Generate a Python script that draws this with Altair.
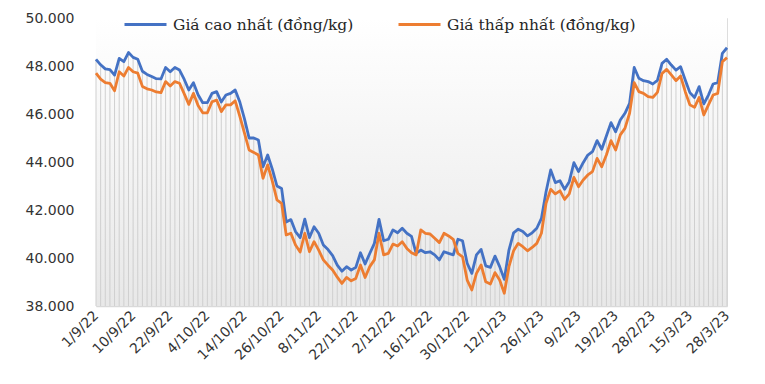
import altair as alt
import pandas as pd

date_labels = ["1/9/22", "10/9/22", "22/9/22", "4/10/22", "14/10/22", "26/10/22",
               "8/11/22", "22/11/22", "2/12/22", "16/12/22", "30/12/22", "12/1/23",
               "26/1/23", "9/2/23", "19/2/23", "28/2/23", "15/3/23", "28/3/23"]
label_step = 8

high = [48.28, 48.05, 47.88, 47.85, 47.62, 48.32, 48.18, 48.56, 48.36, 48.28,
        47.78, 47.65, 47.56, 47.47, 47.46, 47.94, 47.76, 47.94, 47.83, 47.45,
        47.00, 47.30, 46.80, 46.47, 46.47, 46.86, 46.93, 46.50, 46.79, 46.86,
        47.00, 46.50, 45.80, 45.00, 45.00, 44.92, 43.80, 44.29, 43.70, 43.00,
        42.90, 41.50, 41.60, 41.10, 40.85, 41.62, 40.85, 41.30, 41.03, 40.54,
        40.35, 40.10, 39.70, 39.45, 39.64, 39.50, 39.61, 40.22, 39.75, 40.19,
        40.61, 41.61, 40.72, 40.78, 41.17, 41.05, 41.24, 41.03, 40.90, 40.19,
        40.33, 40.22, 40.26, 40.13, 39.92, 40.26, 40.19, 40.13, 40.78, 40.72,
        39.78, 39.36, 40.13, 40.36, 39.67, 39.61, 40.08, 39.64, 39.11, 40.33,
        41.05, 41.20, 41.10, 40.92, 41.05, 41.24, 41.65, 42.76, 43.67, 43.14,
        43.22, 42.86, 43.18, 43.97, 43.60, 43.97, 44.29, 44.43, 44.89, 44.53,
        45.08, 45.64, 45.26, 45.75, 46.03, 46.44, 47.94, 47.49, 47.39, 47.35,
        47.25, 47.40, 48.11, 48.28, 48.04, 47.83, 47.97, 47.42, 46.89, 46.69,
        47.14, 46.42, 46.79, 47.25, 47.31, 48.53, 48.76]

low = [47.70, 47.45, 47.31, 47.28, 46.97, 47.76, 47.58, 47.94, 47.76, 47.70,
       47.15, 47.05, 47.00, 46.92, 46.89, 47.35, 47.17, 47.35, 47.28, 46.85,
       46.40, 46.86, 46.35, 46.05, 46.05, 46.51, 46.58, 46.10, 46.38, 46.38,
       46.55, 45.90, 45.20, 44.50, 44.40, 44.29, 43.32, 43.88, 43.20, 42.42,
       42.28, 40.96, 41.03, 40.54, 40.25, 41.03, 40.26, 40.68, 40.33, 39.92,
       39.70, 39.50, 39.20, 38.94, 39.19, 39.05, 39.15, 39.71, 39.19, 39.64,
       39.92, 41.03, 40.13, 40.19, 40.58, 40.50, 40.68, 40.40, 40.22, 40.13,
       41.17, 41.03, 41.00, 40.82, 40.64, 41.03, 40.92, 40.78, 40.19, 40.05,
       39.08, 38.67, 39.36, 39.71, 39.01, 38.92, 39.39, 39.08, 38.53, 39.64,
       40.30, 40.61, 40.47, 40.30, 40.44, 40.61, 41.03, 42.28, 42.86, 42.67,
       42.80, 42.44, 42.67, 43.36, 42.97, 43.25, 43.46, 43.60, 44.15, 43.80,
       44.29, 44.89, 44.50, 45.13, 45.40, 46.03, 47.31, 46.93, 46.86, 46.72,
       46.69, 46.90, 47.69, 47.86, 47.63, 47.39, 47.58, 46.93, 46.38, 46.28,
       46.69, 45.96, 46.38, 46.79, 46.86, 48.18, 48.35]

series_names = ["Giá cao nhất (đồng/kg)", "Giá thấp nhất (đồng/kg)"]
series_colors = ["#4472C4", "#ED7D31"]
y_ticks = [38000, 40000, 42000, 44000, 46000, 48000, 50000]

n = len(high)
idx = list(range(n))
long_df = pd.DataFrame({
    "idx": idx + idx,
    "value": [v * 1000 for v in high] + [v * 1000 for v in low],
    "series": [series_names[0]] * n + [series_names[1]] * n,
    "order": [0] * n + [1] * n,
})
drop_df = pd.DataFrame({"idx": idx, "top": [max(a, b) * 1000 for a, b in zip(high, low)]})

W, H = 631, 288
last = n - 1
label_js = "[" + ",".join("'%s'" % s for s in date_labels) + "]"

x_enc = alt.X("idx:Q",
              scale=alt.Scale(domain=[0, last], nice=False, zero=False),
              axis=alt.Axis(values=list(range(0, n, label_step)),
                            labelExpr=f"{label_js}[round(datum.value/{label_step})]",
                            labelAngle=-45, labelAlign="right", labelBaseline="middle",
                            labelOverlap=False, labelBound=False,
                            ticks=False, grid=False,
                            domainColor="#d9d9d9", domainWidth=1.5,
                            labelFont="DejaVu Sans", labelFontSize=14,
                            labelColor="#333333", labelPadding=7, title=None))
y_scale = alt.Scale(domain=[38000, 50000], nice=False, zero=False)
y_axis = alt.Axis(values=y_ticks, labelExpr="replace(format(datum.value, ',.0f'), ',', '.')",
                  domain=False, ticks=False, grid=False,
                  labelFont="DejaVu Sans", labelFontSize=14, labelColor="#333333",
                  labelPadding=22, title=None)

bg = alt.Chart(pd.DataFrame({"a": [0]})).mark_rect(
    color=alt.Gradient(gradient="linear", x1=0, y1=0, x2=0, y2=1,
                       stops=[alt.GradientStop(color="#ffffff", offset=0),
                              alt.GradientStop(color="#e8e8e8", offset=1)])
).encode(x=alt.value(0), x2=alt.value(W), y=alt.value(0), y2=alt.value(H))

drops = alt.Chart(drop_df).mark_rule(color="#cfcfcf", strokeWidth=1).encode(
    x=x_enc,
    y=alt.Y("top:Q", scale=y_scale, axis=y_axis),
    y2=alt.datum(38000),
)

lines = alt.Chart(long_df).mark_line(strokeWidth=2.8, strokeJoin="round").encode(
    x=x_enc,
    y=alt.Y("value:Q", scale=y_scale, axis=y_axis),
    color=alt.Color("series:N",
                    scale=alt.Scale(domain=series_names, range=series_colors),
                    legend=alt.Legend(orient="none", legendX=27, legendY=-16,
                                      direction="horizontal", title=None,
                                      symbolType="stroke", symbolSize=1764,
                                      symbolStrokeWidth=3, labelFont="DejaVu Serif",
                                      labelFontSize=15.5, labelColor="#262626",
                                      labelLimit=0, labelOffset=5, columnPadding=38)),
    order=alt.Order("order:Q"),
)

chart = alt.layer(bg, drops, lines).properties(
    width=W, height=H,
    padding={"left": 88, "top": 10, "right": 30, "bottom": 62},
    autosize=alt.AutoSizeParams(type="none"),
).configure_view(stroke=None).configure(background="white")

chart.save("out.html", embed_options={"renderer": "svg", "actions": False})
